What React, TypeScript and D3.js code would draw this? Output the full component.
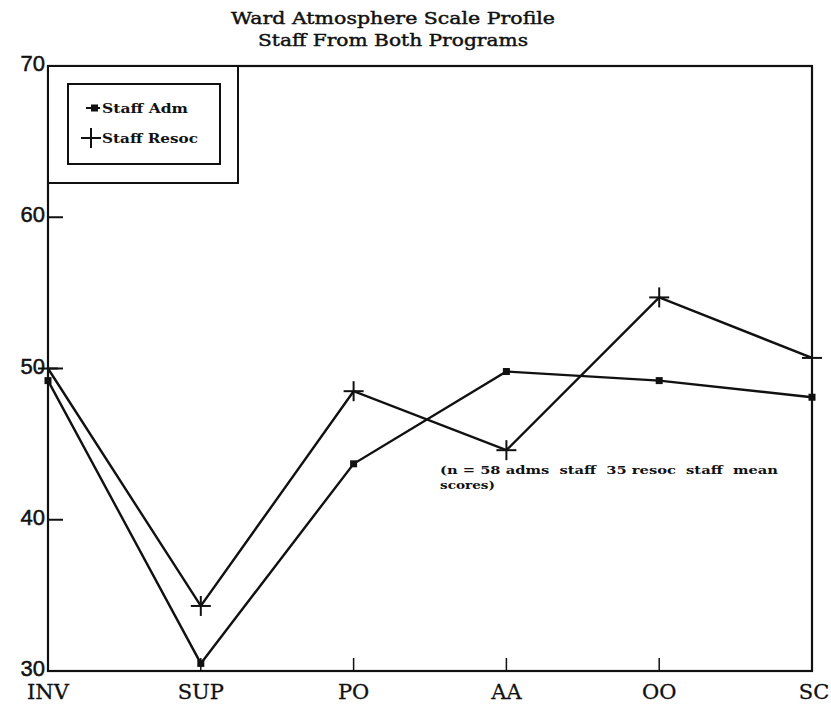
import React from "react";
import * as d3 from "d3";

// Ward Atmosphere Scale subscales
const categories = ["INV", "SUP", "PO", "AA", "OO", "SC"];
// mean scores, administrative staff
const staffAdm = [49.2, 30.5, 43.7, 49.8, 49.2, 48.1];
// mean scores, resocialization staff
const staffResoc = [50.0, 34.3, 48.5, 44.6, 54.7, 50.7];
const yTicks = [30, 40, 50, 60, 70];
const titleLines = ["Ward Atmosphere Scale Profile", "Staff From Both Programs"];
const noteLines = ["(n = 58 adms  staff  35 resoc  staff  mean", "scores)"];

const W = 831;
const H = 706;
const left = 48;
const right = 812;
const top = 66;
const bottom = 671;

export default function App() {
  const x = d3.scalePoint<string>().domain(categories).range([left, right]);
  const y = d3.scaleLinear().domain([30, 70]).range([bottom, top]);

  const line = d3
    .line<number>()
    .x((_, i) => x(categories[i]) as number)
    .y((d) => y(d));

  const serif = "'DejaVu Serif', 'Liberation Serif', serif";
  const sans = "'Liberation Sans', Arial, sans-serif";

  return (
    <svg
      width={W}
      height={H}
      style={{ position: "absolute", left: 0, top: 0, background: "#fff" }}
    >
      <rect x={0} y={0} width={W} height={H} fill="#fff" />
      {/* title */}
      {titleLines.map((t, i) => (
        <text
          key={t}
          x={393}
          y={24 + i * 22}
          textAnchor="middle"
          fontFamily={serif}
          fontSize={17}
          stroke="#111"
          strokeWidth={0.45}
          textLength={i === 0 ? 324 : 270}
          lengthAdjust="spacingAndGlyphs"
          fill="#111"
        >
          {t}
        </text>
      ))}

      {/* plot frame */}
      <rect
        x={left}
        y={top}
        width={right - left}
        height={bottom - top}
        fill="none"
        stroke="#111"
        strokeWidth={2.2}
      />

      {/* y ticks and labels */}
      {yTicks.map((v) => (
        <g key={v}>
          {v > 30 && v < 70 && (
            <line x1={left} x2={left + 15} y1={y(v)} y2={y(v)} stroke="#111" strokeWidth={2} />
          )}
          <text
            x={45}
            y={y(v) + 5}
            textAnchor="end"
            fontFamily={sans}
            fontSize={22}
            stroke="#111"
            strokeWidth={0.5}
            fill="#111"
          >
            {v}
          </text>
        </g>
      ))}

      {/* x ticks and labels */}
      {categories.map((c, i) => (
        <g key={c}>
          {i > 0 && i < categories.length - 1 && (
            <line
              x1={x(c)}
              x2={x(c)}
              y1={bottom}
              y2={bottom - 13}
              stroke="#111"
              strokeWidth={1.5}
            />
          )}
          <text
            x={(x(c) as number) + (i === categories.length - 1 ? 2 : 0)}
            y={699}
            textAnchor="middle"
            fontFamily={serif}
            fontSize={21}
            stroke="#111"
            strokeWidth={0.3}
            fill="#111"
          >
            {c}
          </text>
        </g>
      ))}

      {/* series lines */}
      <path d={line(staffAdm) ?? ""} fill="none" stroke="#111" strokeWidth={2.4} />
      <path d={line(staffResoc) ?? ""} fill="none" stroke="#111" strokeWidth={2.4} />

      {staffAdm.map((v, i) => (
        <rect
          key={"a" + i}
          x={(x(categories[i]) as number) - 3.5}
          y={y(v) - 3.5}
          width={7}
          height={7}
          fill="#111"
        />
      ))}
      {staffResoc.map((v, i) => {
        const cx = x(categories[i]) as number;
        const cy = y(v);
        return (
          <g key={"r" + i} stroke="#111" strokeWidth={2}>
            <line x1={cx - 10} x2={cx + 10} y1={cy} y2={cy} />
            <line x1={cx} x2={cx} y1={cy - 10} y2={cy + 10} />
          </g>
        );
      })}

      {/* legend */}
      <rect x={left} y={top} width={190} height={117} fill="#fff" stroke="#111" strokeWidth={2} />
      <rect x={68} y={84} width={152} height={80} fill="#fff" stroke="#111" strokeWidth={2} />
      <line x1={86} x2={100} y1={108} y2={108} stroke="#111" strokeWidth={2} />
      <rect x={91} y={104.5} width={7} height={7} fill="#111" />
      <text x={102} y={113} fontFamily={serif} fontWeight="bold" fontSize={13} fill="#111" textLength={86} lengthAdjust="spacingAndGlyphs">
        Staff Adm
      </text>
      <g stroke="#111" strokeWidth={2}>
        <line x1={81} x2={101} y1={138} y2={138} />
        <line x1={91} x2={91} y1={128} y2={148} />
      </g>
      <text x={102} y={143} fontFamily={serif} fontWeight="bold" fontSize={13} fill="#111" textLength={96} lengthAdjust="spacingAndGlyphs">
        Staff Resoc
      </text>

      {/* sample note */}
      {noteLines.map((t, i) => (
        <text
          key={t}
          x={440}
          y={474 + i * 15}
          fontFamily={serif}
          fontWeight="bold"
          fontSize={11.5}
          fill="#111"
          style={{ whiteSpace: "pre" }}
          textLength={i === 0 ? 338 : 55}
          lengthAdjust="spacingAndGlyphs"
        >
          {t}
        </text>
      ))}
    </svg>
  );
}
